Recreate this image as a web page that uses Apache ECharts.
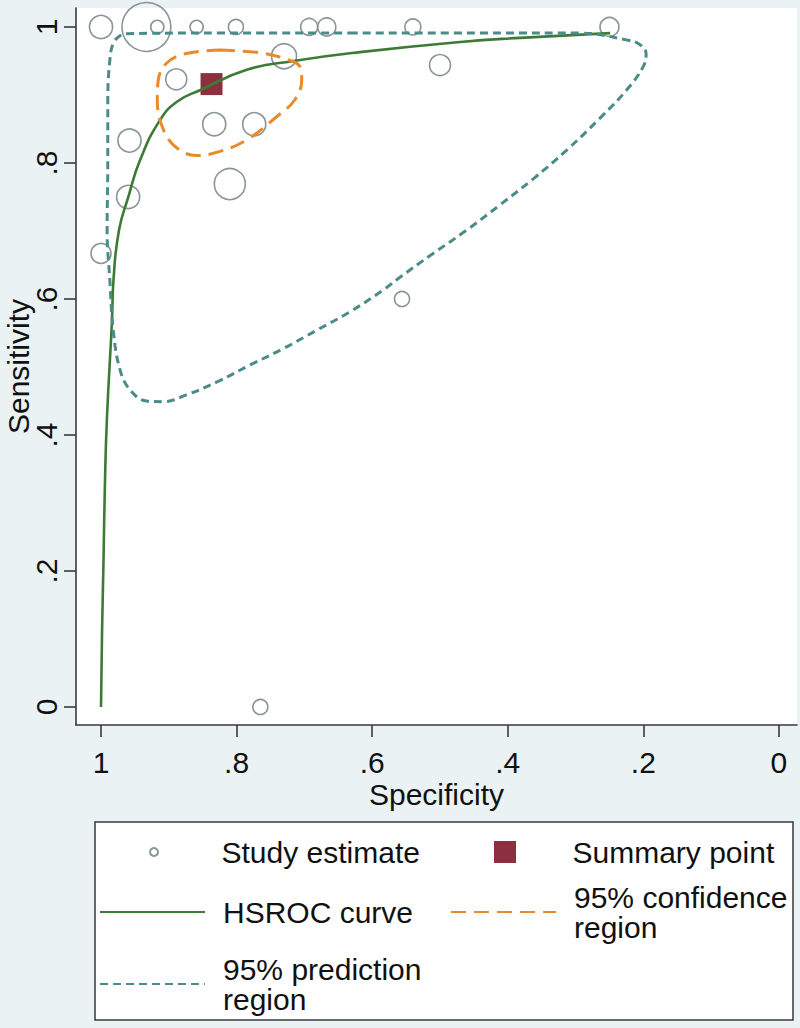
<!DOCTYPE html>
<html><head><meta charset="utf-8">
<script src="https://cdn.jsdelivr.net/npm/echarts@6/dist/echarts.min.js"></script>
<style>html,body{margin:0;padding:0;background:#eaf2f3}#chart{width:800px;height:1028px}</style>
</head><body><div id="chart"></div>
<script>
// ---- data ----
const tickValues = [0, 0.2, 0.4, 0.6, 0.8, 1];
const tickLabels = ['0', '.2', '.4', '.6', '.8', '1'];

const studySpec   = [1.000, 0.933, 0.917, 0.859, 0.801, 0.693, 0.667, 0.540, 0.250, 0.730, 0.889, 0.500, 0.833, 0.774, 0.958, 0.810, 0.960, 1.000, 0.556, 0.765];
const studySens   = [1.000, 1.000, 1.000, 1.000, 1.000, 1.000, 1.000, 1.000, 1.000, 0.957, 0.923, 0.944, 0.857, 0.857, 0.833, 0.769, 0.750, 0.667, 0.600, 0.000];
const studyWeight = [52, 234, 17, 17, 22, 28, 32, 25, 35, 61, 43, 43, 52, 52, 52, 94, 52, 39, 22, 22];

const summarySpec = [0.837];
const summarySens = [0.916];

const hsrocSpec = [1.000, 0.9985, 0.9963, 0.9941, 0.9912, 0.9838, 0.9816, 0.9735, 0.9597, 0.9425, 0.913, 0.888, 0.854, 0.785, 0.716, 0.618, 0.470, 0.382, 0.249];
const hsrocSens = [0.000, 0.109, 0.216, 0.334, 0.426, 0.569, 0.628, 0.701, 0.750, 0.804, 0.863, 0.890, 0.907, 0.937, 0.950, 0.963, 0.978, 0.984, 0.991];

const confSpec = [0.8245, 0.7655, 0.726, 0.7065, 0.704, 0.714, 0.741, 0.785, 0.8245, 0.859, 0.888, 0.908, 0.917, 0.9155, 0.903, 0.874, 0.8245];
const confSens = [0.966, 0.962, 0.9525, 0.9416, 0.922, 0.893, 0.868, 0.834, 0.817, 0.811, 0.822, 0.849, 0.893, 0.922, 0.947, 0.961, 0.966];

const predSpec = [0.633, 0.412, 0.294, 0.225, 0.205, 0.196, 0.200, 0.225, 0.264, 0.313, 0.362, 0.412, 0.461, 0.510, 0.559, 0.584, 0.633, 0.682, 0.731, 0.780, 0.829, 0.874, 0.908, 0.933, 0.957, 0.972, 0.982, 0.987, 0.991, 0.990, 0.990, 0.987, 0.982, 0.972, 0.962, 0.854, 0.633];
const predSens = [0.991, 0.991, 0.991, 0.981, 0.974, 0.961, 0.942, 0.907, 0.866, 0.819, 0.777, 0.738, 0.701, 0.667, 0.632, 0.613, 0.581, 0.554, 0.527, 0.503, 0.478, 0.459, 0.449, 0.450, 0.466, 0.496, 0.554, 0.628, 0.701, 0.804, 0.893, 0.951, 0.976, 0.987, 0.990, 0.991, 0.991];

const names = ['Study estimate', 'Summary point', 'HSROC curve', '95% confidence region', '95% prediction region'];

// ---- build ----
const pairs = (xs, ys) => xs.map((x, i) => [x, ys[i]]);
const FONT = 'Liberation Sans';
const labelFmt = v => { const i = tickValues.findIndex(t => Math.abs(t - v) < 1e-9); return i >= 0 ? tickLabels[i] : ''; };
const axisCommon = {
  type: 'value',
  splitLine: { show: false },
  axisLine: { show: true, onZero: false, lineStyle: { color: '#3a3a3a', width: 1.6 } },
  axisTick: { show: true, length: 12, customValues: tickValues, lineStyle: { color: '#3a3a3a', width: 1.6 } },
  nameLocation: 'middle',
  nameMoveOverlap: false,
  nameTextStyle: { fontSize: 30, color: '#111', fontFamily: FONT }
};
const legendText = pad => ({ fontSize: 30, lineHeight: 30, color: '#111', fontFamily: FONT, padding: [0, 0, 0, pad] });
const legendBase = {
  orient: 'horizontal', padding: 0, itemWidth: 105, itemGap: 0, selectedMode: false,
  textStyle: legendText(13),
  formatter: n => n.replace(' region', '\nregion')
};
const hideDot = { opacity: 0 };

const chart = echarts.init(document.getElementById('chart'), null, { renderer: 'svg' });
chart.setOption({
  backgroundColor: '#eaf2f3',
  animation: false,
  grid: { left: 76, right: 3, top: 8, bottom: 303, outerBoundsMode: 'none', containLabel: false, show: true, backgroundColor: '#ffffff', borderWidth: 0 },
  xAxis: Object.assign({}, axisCommon, {
    min: -0.0266, max: 1.0369, inverse: true,
    name: 'Specificity', nameGap: 54,
    axisLabel: { customValues: tickValues, formatter: labelFmt, fontSize: 30, color: '#111', fontFamily: FONT, margin: 22 }
  }),
  yAxis: Object.assign({}, axisCommon, {
    min: -0.0265, max: 1.0279,
    name: 'Sensitivity', nameGap: 43, nameRotate: 90,
    axisLabel: { customValues: tickValues, formatter: labelFmt, rotate: 90, fontSize: 30, color: '#111', fontFamily: FONT, margin: 15 }
  }),
  legend: [
    Object.assign({}, legendBase, { data: [{ name: names[0], icon: 'circle' }], left: 149, top: 837, itemHeight: 8, textStyle: legendText(10) }),
    Object.assign({}, legendBase, { data: [{ name: names[1], icon: 'path://M0 0H10V10H0Z' }], left: 494, top: 837, itemHeight: 22, textStyle: legendText(10) }),
    Object.assign({}, legendBase, { data: [{ name: names[2], itemStyle: hideDot }], left: 99, top: 897, itemHeight: 4 }),
    Object.assign({}, legendBase, { data: [{ name: names[3], itemStyle: hideDot }], left: 450, top: 882, itemHeight: 4 }),
    Object.assign({}, legendBase, { data: [{ name: names[4], itemStyle: hideDot }], left: 99, top: 954, itemHeight: 4 })
  ],
  graphic: [{
    type: 'rect', z: -10, silent: true,
    shape: { x: 95, y: 822, width: 698, height: 198 },
    style: { fill: '#ffffff', stroke: '#3a3a3a', lineWidth: 1.5 }
  }],
  series: [
    {
      name: names[0], type: 'scatter', z: 2,
      data: studySpec.map((s, i) => [s, studySens[i], studyWeight[i]]),
      symbol: 'circle', symbolSize: v => 3.2 * Math.sqrt(v[2]),
      itemStyle: { color: 'rgba(0,0,0,0)', borderColor: '#8a9599', borderWidth: 1.6, opacity: 1 }
    },
    {
      name: names[1], type: 'scatter', z: 3,
      data: pairs(summarySpec, summarySens),
      symbol: 'rect', symbolSize: 22,
      itemStyle: { color: '#8c2f3e', opacity: 1 }
    },
    {
      name: names[2], type: 'line', z: 4, smooth: 0.5, symbol: 'none',
      data: pairs(hsrocSpec, hsrocSens),
      lineStyle: { color: '#3d7a35', width: 2.6 }, itemStyle: { color: '#3d7a35' }
    },
    {
      name: names[3], type: 'line', z: 5, smooth: 0.4, symbol: 'none',
      data: pairs(confSpec, confSens),
      lineStyle: { color: '#e98a2c', width: 3, type: [15, 8] }, itemStyle: { color: '#e98a2c' }
    },
    {
      name: names[4], type: 'line', z: 5, smooth: 0.4, symbol: 'none',
      data: pairs(predSpec, predSens),
      lineStyle: { color: '#4a8c88', width: 3, type: [8, 5] }, itemStyle: { color: '#4a8c88' }
    }
  ]
});
</script></body></html>
